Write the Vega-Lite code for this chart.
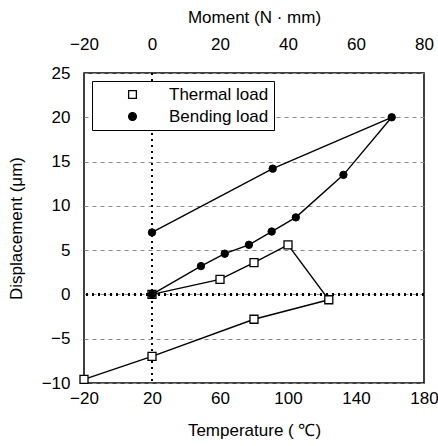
{
  "$schema": "https://vega.github.io/schema/vega-lite/v6.json",
  "width": 340,
  "height": 310,
  "autosize": {"type": "none"},
  "padding": {"left": 84, "top": 73, "right": 14, "bottom": 63},
  "config": {
    "font": "Liberation Sans",
    "view": {"stroke": "black", "strokeWidth": 1.5},
    "axis": {
      "labelFont": "Liberation Sans",
      "titleFont": "Liberation Sans",
      "labelFontSize": 17,
      "titleFontSize": 17,
      "titleFontWeight": "normal",
      "labelColor": "black",
      "titleColor": "black",
      "ticks": false,
      "domain": false,
      "labelFlush": false,
      "labelOverlap": false
    },
    "legend": {
      "title": null,
      "orient": "top-left",
      "offset": 8,
      "strokeColor": "black",
      "fillColor": "white",
      "padding": 5,
      "labelFontSize": 17,
      "labelFont": "Liberation Sans",
      "labelColor": "black",
      "symbolSize": 60,
      "symbolOffset": 27,
      "labelOffset": 28,
      "rowPadding": 4,
      "symbolStrokeWidth": 1.3
    }
  },
  "layer": [
    {
      "data": {"values": [
        {"series": "Thermal load", "i": 1, "temperature": 20, "displacement": 0},
        {"series": "Thermal load", "i": 2, "temperature": 60, "displacement": 1.7},
        {"series": "Thermal load", "i": 3, "temperature": 80, "displacement": 3.6},
        {"series": "Thermal load", "i": 4, "temperature": 100, "displacement": 5.6},
        {"series": "Thermal load", "i": 5, "temperature": 124, "displacement": -0.6},
        {"series": "Thermal load", "i": 6, "temperature": 80, "displacement": -2.8},
        {"series": "Thermal load", "i": 7, "temperature": 20, "displacement": -7.0},
        {"series": "Thermal load", "i": 8, "temperature": -20, "displacement": -9.6}
      ]},
      "layer": [
        {
          "mark": {"type": "rule", "strokeDash": [2, 4], "strokeWidth": 2, "color": "black"},
          "encoding": {"y": {"datum": 0, "type": "quantitative"}}
        },
        {
          "mark": {"type": "rule", "strokeDash": [2, 4], "strokeWidth": 2, "color": "black"},
          "encoding": {"x": {"datum": 20, "type": "quantitative"}}
        },
        {
          "mark": {"type": "line", "color": "black", "strokeWidth": 1.4},
          "encoding": {
            "x": {"field": "temperature", "type": "quantitative"},
            "y": {"field": "displacement", "type": "quantitative"},
            "order": {"field": "i"}
          }
        },
        {
          "mark": {"type": "point", "strokeWidth": 1.3, "size": 64, "opacity": 1},
          "encoding": {
            "x": {"field": "temperature", "type": "quantitative",
              "scale": {"domain": [-20, 180], "nice": false, "zero": false},
              "axis": {"orient": "bottom", "values": [-20, 20, 60, 100, 140, 180], "grid": false, "labelPadding": 7, "titlePadding": 16, "title": "Temperature ( ℃)"}
            },
            "y": {"field": "displacement", "type": "quantitative",
              "scale": {"domain": [-10, 25], "nice": false, "zero": false},
              "axis": {"values": [-10, -5, 0, 5, 10, 15, 20, 25], "grid": true, "gridDash": [4, 4], "gridColor": "#888", "gridWidth": 1, "labelPadding": 14, "titlePadding": 16, "title": "Displacement (μm)"}
            },
            "shape": {"field": "series", "type": "nominal", "scale": {"domain": ["Thermal load", "Bending load"], "range": ["square", "circle"]}},
            "fill": {"field": "series", "type": "nominal", "scale": {"domain": ["Thermal load", "Bending load"], "range": ["white", "black"]}},
            "stroke": {"field": "series", "type": "nominal", "scale": {"domain": ["Thermal load", "Bending load"], "range": ["black", "black"]}}
          }
        }
      ]
    },
    {
      "data": {"values": [
        {"series": "Bending load", "i": 1, "moment": 0, "displacement": 0},
        {"series": "Bending load", "i": 2, "moment": 14.4, "displacement": 3.2},
        {"series": "Bending load", "i": 3, "moment": 21.4, "displacement": 4.6},
        {"series": "Bending load", "i": 4, "moment": 28.5, "displacement": 5.6},
        {"series": "Bending load", "i": 5, "moment": 35.2, "displacement": 7.1},
        {"series": "Bending load", "i": 6, "moment": 42.3, "displacement": 8.7},
        {"series": "Bending load", "i": 7, "moment": 56.3, "displacement": 13.5},
        {"series": "Bending load", "i": 8, "moment": 70.5, "displacement": 20.0},
        {"series": "Bending load", "i": 9, "moment": 35.5, "displacement": 14.2},
        {"series": "Bending load", "i": 10, "moment": 0, "displacement": 7.0}
      ]},
      "layer": [
        {
          "mark": {"type": "line", "color": "black", "strokeWidth": 1.4},
          "encoding": {
            "x": {"field": "moment", "type": "quantitative"},
            "y": {"field": "displacement", "type": "quantitative"},
            "order": {"field": "i"}
          }
        },
        {
          "mark": {"type": "point", "strokeWidth": 1, "size": 55, "opacity": 1},
          "encoding": {
            "x": {"field": "moment", "type": "quantitative",
              "scale": {"domain": [-20, 80], "nice": false, "zero": false},
              "axis": {"orient": "top", "values": [-20, 0, 20, 40, 60, 80], "grid": false, "labelPadding": 20, "titlePadding": 9, "title": "Moment (N · mm)"}
            },
            "y": {"field": "displacement", "type": "quantitative"},
            "shape": {"field": "series", "type": "nominal"},
            "fill": {"field": "series", "type": "nominal"},
            "stroke": {"field": "series", "type": "nominal"}
          }
        }
      ]
    }
  ],
  "resolve": {"scale": {"x": "independent"}, "axis": {"x": "independent"}}
}
